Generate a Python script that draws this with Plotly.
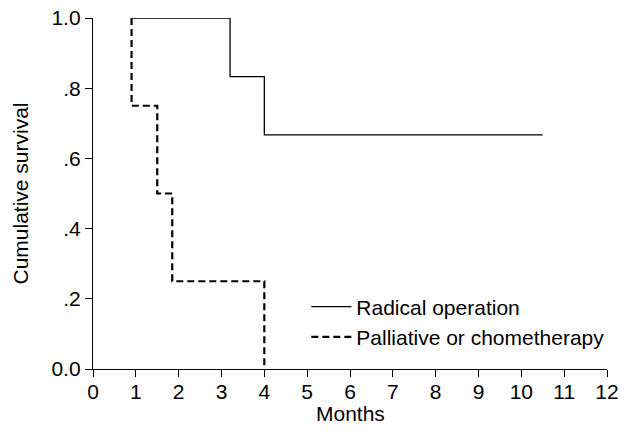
import plotly.graph_objects as go

# Kaplan-Meier step data
radical_months = [0.9, 3.2, 4.0, 10.5]
radical_surv = [1.0, 0.833, 0.667, 0.667]

palliative_months = [0.9, 0.9, 1.5, 1.85, 4.0]
palliative_surv = [1.0, 0.75, 0.5, 0.25, 0.0]

x_ticks = list(range(0, 13))
y_tickvals = [0.0, 0.2, 0.4, 0.6, 0.8, 1.0]
y_ticktext = ["0.0", ".2", ".4", ".6", ".8", "1.0"]

FONT = "Liberation Sans, Arial, sans-serif"
FS = 21

fig = go.Figure()
fig.add_trace(go.Scatter(
    x=radical_months, y=radical_surv, mode="lines", name="Radical operation",
    line=dict(color="black", width=1.3, shape="hv"),
))
fig.add_trace(go.Scatter(
    x=palliative_months, y=palliative_surv, mode="lines", name="Palliative or chometherapy",
    line=dict(color="black", width=2.2, shape="hv", dash="7px,4px"),
))

fig.update_layout(
    width=633, height=438,
    margin=dict(l=93, r=26, t=18, b=69),
    paper_bgcolor="white", plot_bgcolor="white",
    font=dict(family=FONT, size=FS, color="black"),
    showlegend=True,
    legend=dict(x=0.415, y=0.235, xanchor="left", yanchor="top",
                bgcolor="rgba(0,0,0,0)", font=dict(size=FS),
                tracegroupgap=0, itemwidth=40),
    xaxis=dict(
        range=[0, 12], tickvals=x_ticks, ticktext=[str(v) for v in x_ticks],
        showline=True, linecolor="black", linewidth=1.3,
        ticks="outside", ticklen=7, tickwidth=1.3, tickcolor="black",
        showgrid=False, zeroline=False, automargin=False,
        ticklabelstandoff=-3,
    ),
    yaxis=dict(
        range=[0, 1.0], tickvals=y_tickvals, ticktext=y_ticktext,
        showline=True, linecolor="black", linewidth=1.3,
        ticks="outside", ticklen=7, tickwidth=1.3, tickcolor="black",
        showgrid=False, zeroline=False, automargin=False,
        title=dict(text="Cumulative survival", font=dict(size=FS), standoff=17),
    ),
    annotations=[dict(
        text="Months", xref="paper", yref="paper", x=0.5, y=-(413 - 369) / 351,
        xanchor="center", yanchor="middle", showarrow=False,
        font=dict(size=FS, family=FONT, color="black"),
    )],
)

fig.write_html(
    "out.html",
    config={"displayModeBar": False},
    post_script="document.body.style.margin='0';document.body.style.padding='0';",
)
